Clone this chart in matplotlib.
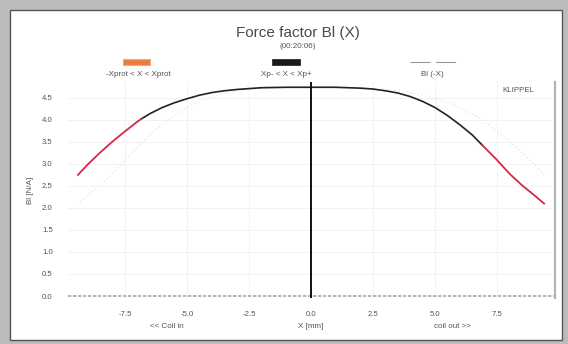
import matplotlib

matplotlib.use("Agg")
import matplotlib.pyplot as plt
import numpy as np
from matplotlib.patches import Rectangle

plt.rcParams["font.family"] = ["Liberation Sans", "DejaVu Sans"]

# Bl(X) curve, force factor in N/A vs coil displacement in mm
x_mm = [-9.4, -9.0, -8.5, -8.0, -7.5, -7.0, -6.85, -6.5, -6.0, -5.5, -5.0, -4.5,
        -4.0, -3.5, -3.0, -2.5, -2.0, -1.0, 0.0, 1.0, 2.0, 2.5, 3.0, 3.5, 4.0,
        4.5, 5.0, 5.5, 6.0, 6.5, 6.9, 7.5, 8.0, 8.5, 9.0, 9.4]
bl = [2.75, 2.99, 3.26, 3.51, 3.74, 3.96, 4.02, 4.14, 4.28, 4.39, 4.48, 4.56,
      4.62, 4.66, 4.69, 4.71, 4.73, 4.74, 4.74, 4.74, 4.72, 4.70, 4.66, 4.61, 4.53,
      4.42, 4.28, 4.10, 3.89, 3.66, 3.43, 3.09, 2.78, 2.52, 2.29, 2.10]
x_prot = 6.87  # protection limit, curve drawn red beyond it

x_ticks = [-7.5, -5.0, -2.5, 0.0, 2.5, 5.0, 7.5]
y_ticks = [0.0, 0.5, 1.0, 1.5, 2.0, 2.5, 3.0, 3.5, 4.0, 4.5]

W, H = 568, 344


def fx(px):
    return px / W


def fy(py):
    return 1 - py / H


fig = plt.figure(figsize=(W / 100, H / 100), dpi=100)
fig.patch.set_facecolor("#bcbcbc")
fig.patches.append(Rectangle((fx(10), fy(340)), fx(552), 330 / H, transform=fig.transFigure,
                             facecolor="white", edgecolor="#555555", lw=1.0, zorder=-5))

ax = fig.add_axes([fx(68), fy(298), fx(555 - 68), (298 - 82) / H])
ax.set_facecolor("none")
ax.set_zorder(2)
ax.set_xlim(-9.8, 9.84)
ax.set_ylim(-0.045, 4.86)

x = np.array(x_mm)
y = np.array(bl)

# grid
for t in x_ticks:
    ax.axvline(t, color="#f6eeee", lw=0.6, zorder=1)
for t in y_ticks[1:]:
    ax.axhline(t, color="#f6eeee", lw=0.6, zorder=1)

# mirrored curve Bl(-X)
ax.plot(-x, y, color="#f0dadf", lw=0.7, ls=(0, (1.5, 2.5)), zorder=2)

inner = np.abs(x) <= x_prot + 0.05
ax.plot(x[inner], y[inner], color="#222222", lw=1.2, zorder=3)
left = x <= -x_prot + 0.05
right = x >= x_prot - 0.05
ax.plot(x[left], y[left], color="#d4274c", lw=1.3, zorder=3)
ax.plot(x[right], y[right], color="#d4274c", lw=1.3, zorder=3)

ax.axvline(0, ymin=0, ymax=1, color="#111111", lw=1.4, zorder=4)
ax.axhline(0, color="#a8a8a8", lw=1.2, ls=(0, (2, 1)), zorder=2)

for s in ["left", "top", "bottom"]:
    ax.spines[s].set_visible(False)
ax.spines["right"].set_color("#b5b5b5")
ax.spines["right"].set_linewidth(1.6)

ax.set_xticks(x_ticks)
ax.set_xticklabels([f"{t:.1f}" for t in x_ticks])
ax.set_yticks(y_ticks)
ax.set_yticklabels([f"{t:.1f}" for t in y_ticks])
ax.tick_params(axis="both", length=0, labelsize=5.6, colors="#555555")
ax.tick_params(axis="x", pad=9)
ax.tick_params(axis="y", pad=11)

txt = dict(transform=fig.transFigure, color="#555555", fontsize=5.8,
           ha="center", va="center")
fig.text(fx(298), fy(33), "Force factor Bl (X)", transform=fig.transFigure,
         color="#4a4a4a", fontsize=11, ha="center", va="center")
fig.text(fx(298), fy(47), "(00:20:06)", **txt)

# legend entries
fig.patches.append(Rectangle((fx(123), fy(65)), fx(27), 6 / H, transform=fig.transFigure,
                             facecolor="#eb7a3f", edgecolor="#f2a98a", lw=0.8))
fig.patches.append(Rectangle((fx(272), fy(65)), fx(28), 6 / H, transform=fig.transFigure,
                             facecolor="#1a1a1a", edgecolor="#1a1a1a", lw=0.5))
fig.lines.append(plt.Line2D([fx(410), fx(457)], [fy(62), fy(62)], transform=fig.transFigure,
                            color="#9a9a9a", lw=0.8, ls=(0, (18, 5))))
fig.text(fx(138), fy(75), "-Xprot < X < Xprot", **txt)
fig.text(fx(286), fy(75), "Xp- < X < Xp+", **txt)
fig.text(fx(432), fy(75), "Bl (-X)", **txt)
fig.text(fx(518), fy(90), "KLIPPEL", **txt)

fig.text(fx(30), fy(190), "Bl [N/A]", rotation=90, **txt)
fig.text(fx(311), fy(326), "X [mm]", **txt)
fig.text(fx(167), fy(326), "<< Coil in", **txt)
fig.text(fx(452), fy(326), "coil out >>", **txt)

fig.savefig("out.png", dpi=100, facecolor=fig.get_facecolor())
